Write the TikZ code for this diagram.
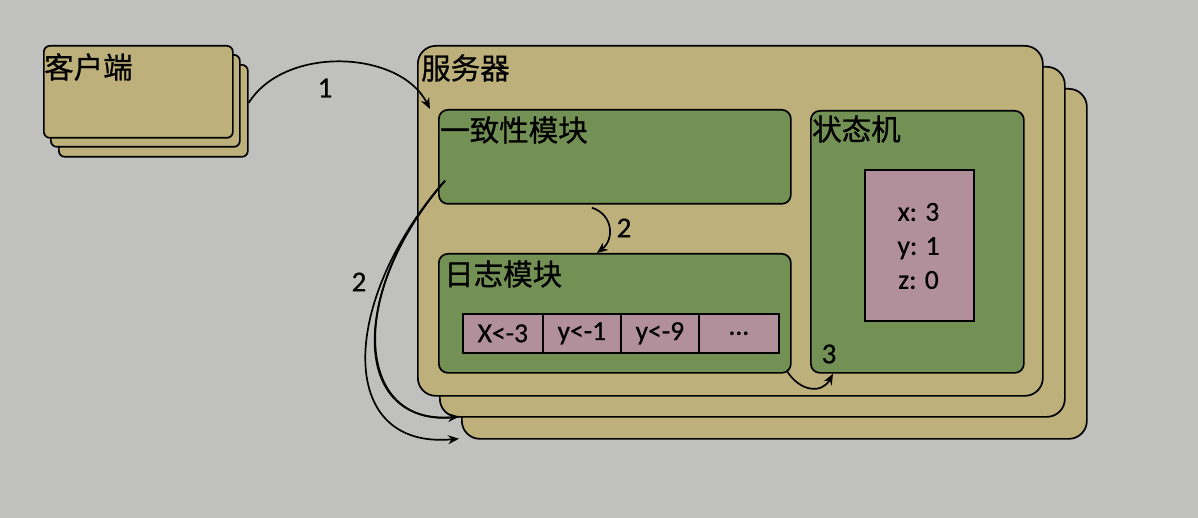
\documentclass[tikz,border=0pt]{standalone}
\usepackage{fontspec}
\setmainfont{Carlito}[UprightFeatures={FakeBold=0.6}]
\newfontfamily\cjk{Noto Sans CJK SC}[UprightFeatures={FakeBold=0.8}]
\usetikzlibrary{arrows.meta,calc}
\definecolor{bgc}{RGB}{192,193,190}
\definecolor{tanc}{RGB}{189,176,122}
\definecolor{greenc}{RGB}{115,145,84}
\definecolor{pinkc}{RGB}{177,144,156}
\tikzset{
  clientbox/.style={draw=black,line width=1.7pt,fill=tanc,rounded corners=6pt,anchor=north west,minimum width=189pt,minimum height=92pt,inner sep=0pt},
  serverbox/.style={draw=black,line width=1.7pt,fill=tanc,rounded corners=18pt,anchor=north west,minimum width=625pt,minimum height=350pt,inner sep=0pt},
  modbox/.style={draw=black,line width=1.7pt,fill=greenc,rounded corners=9pt,anchor=north west,inner sep=0pt},
  cellbox/.style={draw=black,line width=1.7pt,fill=pinkc,anchor=north west,inner sep=0pt,minimum height=39pt,font=\fontsize{27.5}{30}\selectfont},
  title/.style={anchor=west,inner sep=0pt,font=\cjk\fontsize{29.5}{32}\selectfont},
  numlab/.style={inner sep=0pt,font=\fontsize{29}{32}\selectfont},
  conn/.style={draw=black,line width=1.7pt,-{Stealth[length=11pt,width=9pt]}}
}
\begin{document}
\begin{tikzpicture}[x=1pt,y=-1pt]
\fill[bgc] (0,0) rectangle (1198,518);
\useasboundingbox (0,0) rectangle (1198,518);
% clients
\node[clientbox] (c3) at (58,64) {};
\node[clientbox] (c2) at (50,54) {};
\node[clientbox] (c1) at (43,45) {};
\node[title] (ct) at (44,67) {客户端};
% servers
\node[serverbox] (s3) at (461,88) {};
\node[serverbox] (s2) at (439,66) {};
\node[serverbox] (s1) at (417,45) {};
\node[title] (st) at (421,68) {服务器};
% modules
\node[modbox,minimum width=352pt,minimum height=94pt] (cons) at (438,109) {};
\node[title] (cont) at (440,130) {一致性模块};
\node[modbox,minimum width=352pt,minimum height=119pt] (log) at (438,253) {};
\node[title] (logt) at (444,274) {日志模块};
\node[modbox,minimum width=213pt,minimum height=262pt] (sm) at (810,110) {};
\node[title] (smt) at (812,129) {状态机};
% log entries
\node[cellbox,minimum width=80pt] (e1) at (462,313) {X<-3};
\node[cellbox,minimum width=78pt] (e2) at (542,313) {y<-1};
\node[cellbox,minimum width=78pt] (e3) at (620,313) {y<-9};
\node[cellbox,minimum width=80pt] (e4) at (698,313) {...};
% state
\node[draw=black,line width=1.7pt,fill=pinkc,anchor=north west,minimum width=109pt,minimum height=151pt,inner sep=0pt] (st2) at (864,169) {};
\node[align=center,inner sep=0pt,font=\fontsize{27.5}{34}\selectfont] (vals) at (918.5,246) {x: 3\\y: 1\\z: 0};
% connectors
\coordinate (a1s) at ([yshift=8pt]c3.east);
\coordinate (a1e) at ([xshift=-8pt]cons.north west);
\draw[conn] (a1s) .. controls (285,45) and (400,50) .. (a1e);
\node[numlab] (l1) at (325,88) {1};
\coordinate (a2s) at ([xshift=-23pt,yshift=-3pt]cons.south);
\coordinate (a2e) at ([xshift=-18pt]log.north);
\draw[conn] (a2s) .. controls (614,215) and (614,240) .. (a2e);
\node[numlab] (l2) at (624,228) {2};
\coordinate (a3s) at ([xshift=-5pt,yshift=3pt]log.south east);
\coordinate (a3e) at ([xshift=23pt]sm.south west);
\draw[conn] (a3s) .. controls (800,392) and (822,394) .. (a3e);
\node[numlab] (l3) at (829,354) {3};
\coordinate (bs) at ([xshift=7pt,yshift=24pt]cons.south west);
\coordinate (be1) at ([xshift=-2pt,yshift=1pt]s3.south west);
\coordinate (be2) at ([xshift=20pt,yshift=1pt]s2.south west);
\draw[conn] (bs) .. controls (340,300) and (335,450) .. (be1);
\draw[conn] (bs) .. controls (350,290) and (350,425) .. (be2);
\draw[line width=1.7pt] (bs) .. controls (344,296) and (356,432) .. (be2);
\node[numlab] (l4) at (359,282) {2};
\end{tikzpicture}
\end{document}
